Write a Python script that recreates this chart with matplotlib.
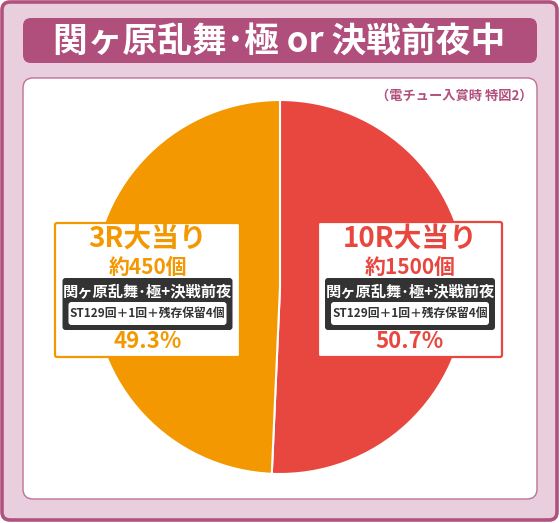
import matplotlib
matplotlib.use('Agg')
import matplotlib.pyplot as plt
from matplotlib.patches import FancyBboxPatch

plt.rcParams['font.family'] = ['Noto Sans CJK JP', 'DejaVu Sans']

# data
title = '関ヶ原乱舞･極 or 決戦前夜中'
note = '（電チュー入賞時 特図2）'
rounds = ['10R大当り', '3R大当り']
payouts = ['約1500個', '約450個']
routes = ['関ヶ原乱舞･極+決戦前夜', '関ヶ原乱舞･極+決戦前夜']
details = ['ST129回＋1回＋残存保留4個', 'ST129回＋1回＋残存保留4個']
shares = [50.7, 49.3]
colors = ['#E8473F', '#F39800']

W, H = 560, 523
fig = plt.figure(figsize=(W / 100, H / 100), dpi=100)

# background layer in pixel coords
bg = fig.add_axes([0, 0, 1, 1], zorder=0)
bg.set_xlim(0, W)
bg.set_ylim(H, 0)
bg.axis('off')

def rbox(ax, x0, y0, x1, y1, fc, ec='none', lw=0, r=6, z=1):
    p = FancyBboxPatch((x0, y0), x1 - x0, y1 - y0,
                       boxstyle='round,pad=0,rounding_size=%g' % r,
                       fc=fc, ec=ec, lw=lw, zorder=z)
    ax.add_patch(p)

rbox(bg, 2, 2, 557, 520, '#E9CFDD', '#B0527E', 2.6, 8)
rbox(bg, 23, 18, 537, 63, '#B14F7C', r=8, z=2)
rbox(bg, 23, 78, 537, 499, 'white', '#C0709A', 1.0, 10, z=2)
bg.text(279, 41, title, color='white', fontsize=25, fontweight='bold',
        ha='center', va='center', zorder=3)
bg.text(532, 96, note, color='#B14F7C', fontsize=9.5, fontweight='bold',
        ha='right', va='center', zorder=3)

# pie
cx, cy, rad = 280, 287, 187
pa = fig.add_axes([(cx - rad) / W, (H - cy - rad) / H, 2 * rad / W, 2 * rad / H], zorder=1)
pa.pie(shares, colors=colors, startangle=90, counterclock=False,
       wedgeprops=dict(edgecolor='white', linewidth=1.5))
pa.set_xlim(-1, 1)
pa.set_ylim(-1, 1)
pa.axis('off')

# label boxes
top = fig.add_axes([0, 0, 1, 1], zorder=2)
top.set_xlim(0, W)
top.set_ylim(H, 0)
top.axis('off')
top.patch.set_visible(False)

boxes = [(318, 222, 502, 357), (55, 223, 240, 357)]
for i in range(2):
    x0, y0, x1, y1 = boxes[i]
    xc = (x0 + x1) / 2
    c = colors[i]
    rbox(top, x0, y0, x1, y1, 'white', c, 1.6, 2)
    top.text(xc, 240, rounds[i], color=c, fontsize=20, fontweight='bold',
             ha='center', va='center', zorder=3)
    top.text(xc, 267, payouts[i], color=c, fontsize=15, fontweight='bold',
             ha='center', va='center', zorder=3)
    rbox(top, xc - 85, 278, xc + 85, 330, '#333333', r=3, z=2)
    top.text(xc, 292, routes[i], color='white', fontsize=11, fontweight='bold',
             ha='center', va='center', zorder=3)
    rbox(top, xc - 79, 302, xc + 79, 325, 'white', r=3, z=3)
    top.text(xc, 313.5, details[i], color='#333333', fontsize=8.5, fontweight='bold',
             ha='center', va='center', zorder=4)
    top.text(xc, 341, '%.1f%%' % shares[i], color=c, fontsize=16, fontweight='bold',
             ha='center', va='center', zorder=3)

fig.savefig('out.png', dpi=100)
